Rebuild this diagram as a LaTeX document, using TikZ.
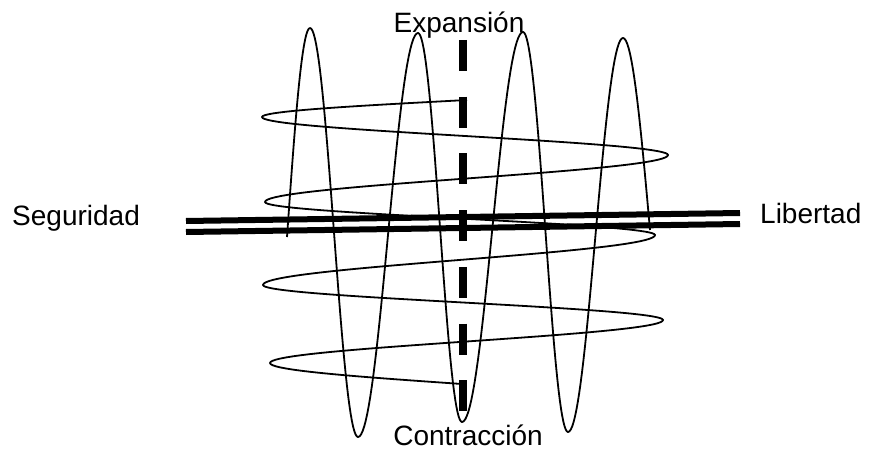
\documentclass[tikz,border=0pt]{standalone}
\usepackage{fontspec}
\setmainfont{Liberation Sans}

\begin{document}
\begin{tikzpicture}[
    x=1pt, y=-1pt,
    every node/.style={font=\fontsize{28}{30}\selectfont, inner sep=0pt},
    wave/.style={line width=1.8pt, line join=round},
    bar/.style={line width=6pt},
]
\useasboundingbox (0,0) rectangle (869,452);

% === Vertical wave (up and down) ===
\draw[wave]
    plot[domain=0:1, samples=20, variable=\t] ({287+23*\t}, {237-209*sin(90*\t)})
    \foreach \xa/\ya/\xb/\yb in {310/28/358/437, 358/437/418/33, 418/33/462/422,
                                462/422/523/32, 523/32/568/432, 568/432/623/38} {
        -- plot[domain=0:1, samples=40, variable=\t]
            ({\xa+(\xb-\xa)*\t}, {\ya+(\yb-\ya)*(1-cos(180*\t))/2})
    }
    -- plot[domain=0:1, samples=20, variable=\t] ({623+27*\t}, {38+192*(1-cos(90*\t))});

% === Horizontal wave (left and right) ===
\draw[wave]
    plot[domain=0:1, samples=20, variable=\t] ({467-205*sin(90*\t)}, {100+17*\t})
    \foreach \xa/\ya/\xb/\yb in {262/117/668/155, 668/155/265/202, 265/202/655/235,
                                655/235/263/285, 263/285/663/320, 663/320/270/363} {
        -- plot[domain=0:1, samples=40, variable=\t]
            ({\xa+(\xb-\xa)*(1-cos(180*\t))/2}, {\ya+(\yb-\ya)*\t})
    }
    -- plot[domain=0:1, samples=20, variable=\t] ({270+192*(1-cos(90*\t))}, {363+21*\t});

% === Double axis (Seguridad -- Libertad) ===
\coordinate (segTop) at (186,221);
\coordinate (segBot) at (186,232);
\coordinate (libTop) at (740,213);
\coordinate (libBot) at (740,224);
\draw[bar] (segTop) -- (libTop);
\draw[bar] (segBot) -- (libBot);

% === Dashed axis (Expansion -- Contraccion) ===
\coordinate (expEnd) at (463,40);
\coordinate (conEnd) at (463,411);
\draw[line width=7.5pt, dash pattern=on 31pt off 25.7pt] (expEnd) -- (conEnd);

% Labels
\node[anchor=base west] (seguridad) at (12,225) {Seguridad};
\node[anchor=base west] (libertad) at (760,223) {Libertad};
\node[anchor=base] (expansion) at (459,33) {Expansión};
\node[anchor=base] (contraccion) at (468,445) {Contracción};

\end{tikzpicture}
\end{document}
